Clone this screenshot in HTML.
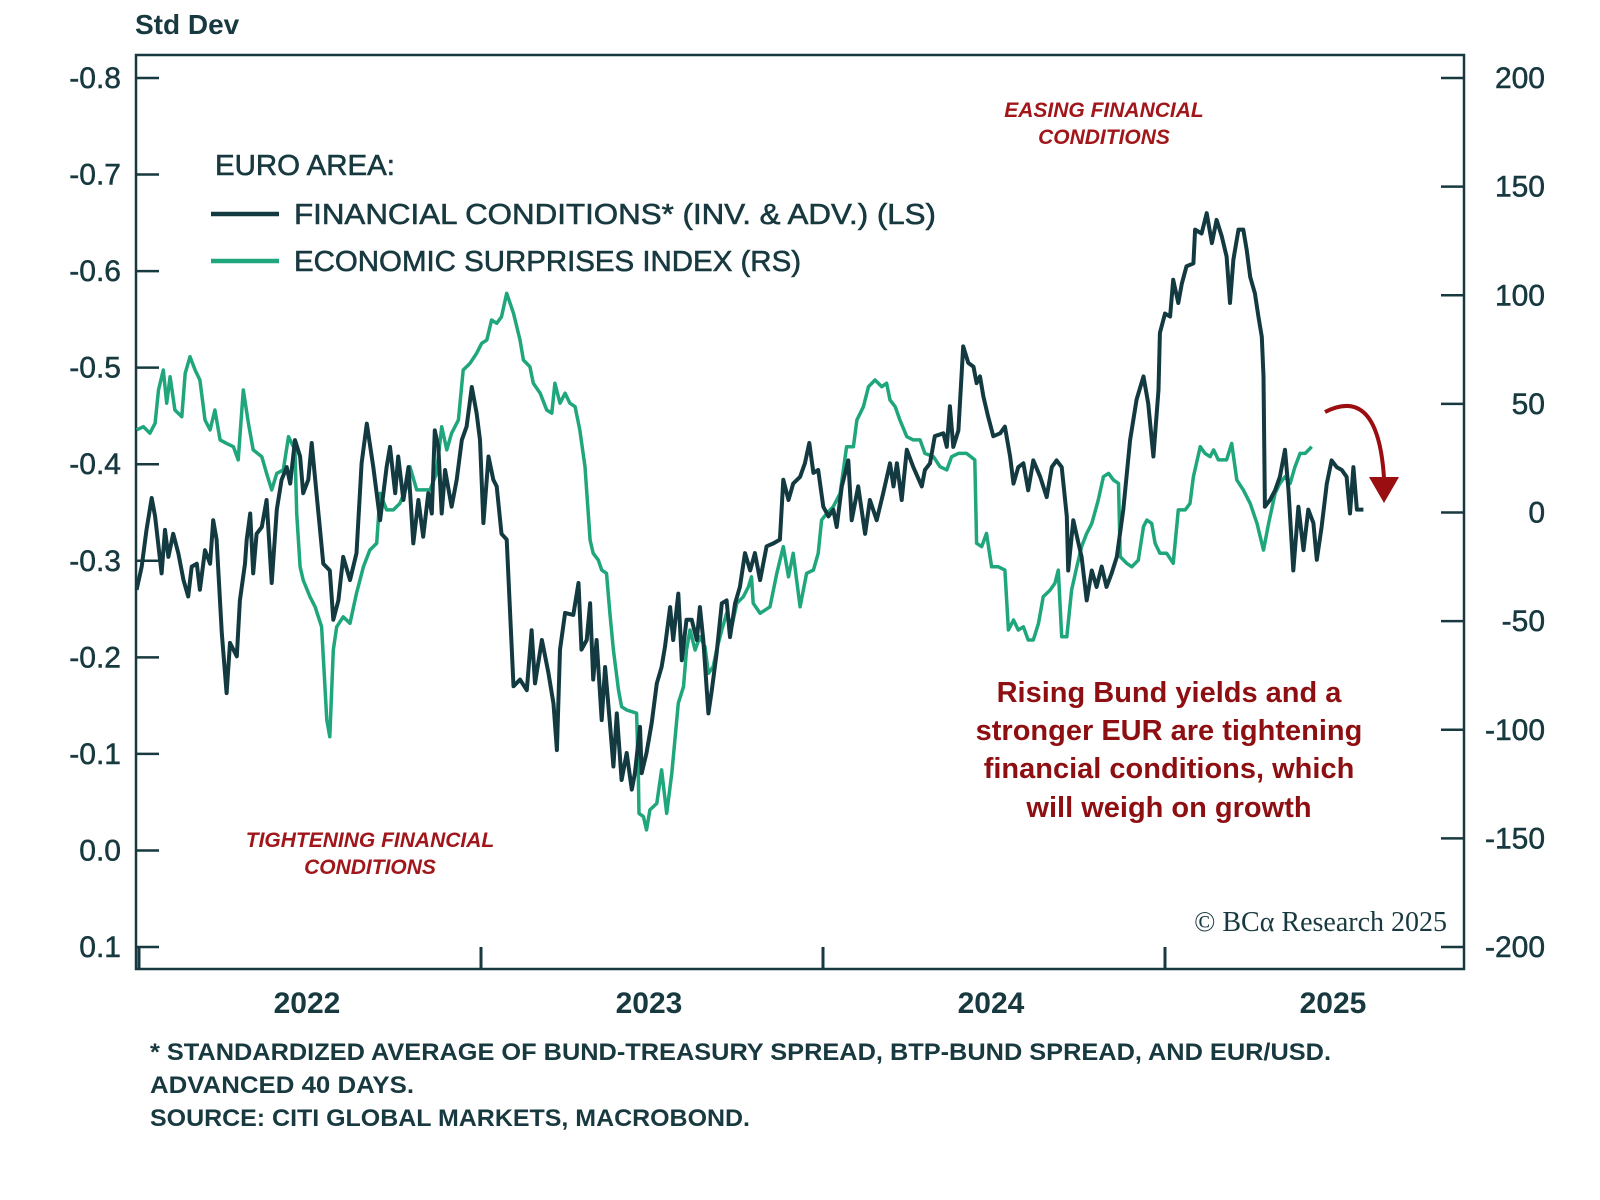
<!DOCTYPE html>
<html><head><meta charset="utf-8"><style>
html,body{margin:0;padding:0;background:#fff;}
svg{display:block;font-family:"Liberation Sans",sans-serif;}
</style></head><body>
<svg id="chart" width="1600" height="1200" viewBox="0 0 1600 1200" xmlns="http://www.w3.org/2000/svg">
<text x="135" y="34" font-size="28" font-weight="bold" fill="#17393f">Std Dev</text>
<rect x="136" y="55" width="1328" height="914" fill="none" stroke="#17393f" stroke-width="2.5"/>
<g id="axes"></g>
<g id="series"></g>
<text x="215" y="175" font-size="29" fill="#17393f" stroke="#17393f" stroke-width="0.6" textLength="180" lengthAdjust="spacingAndGlyphs">EURO AREA:</text>
<line x1="211" y1="214" x2="279" y2="214" stroke="#123a40" stroke-width="4.5"/>
<text x="294" y="224" font-size="29" fill="#17393f" stroke="#17393f" stroke-width="0.6" textLength="642" lengthAdjust="spacingAndGlyphs">FINANCIAL CONDITIONS* (INV. &amp; ADV.) (LS)</text>
<line x1="211" y1="261" x2="279" y2="261" stroke="#1fa67c" stroke-width="4.5"/>
<text x="294" y="271" font-size="29" fill="#17393f" stroke="#17393f" stroke-width="0.6" textLength="507" lengthAdjust="spacingAndGlyphs">ECONOMIC SURPRISES INDEX (RS)</text>
<g font-size="21" font-style="italic" font-weight="bold" fill="#a0161a" text-anchor="middle">
<text x="1104" y="117">EASING FINANCIAL</text><text x="1104" y="144">CONDITIONS</text></g>
<g font-size="21" font-style="italic" font-weight="bold" fill="#a0161a" text-anchor="middle">
<text x="370" y="847">TIGHTENING FINANCIAL</text><text x="370" y="874">CONDITIONS</text></g>
<g font-size="29" font-weight="bold" fill="#8e0f12" text-anchor="middle">
<text x="1169" y="702">Rising Bund yields and a</text>
<text x="1169" y="740">stronger EUR are tightening</text>
<text x="1169" y="778">financial conditions, which</text>
<text x="1169" y="817">will weigh on growth</text></g>
<text x="1447" y="931" font-size="28" text-anchor="end" fill="#17393f" font-family="Liberation Serif, serif">© BCα Research 2025</text>
<path d="M1325 412 Q1378 385 1384 478" fill="none" stroke="#9a0d10" stroke-width="4"/>
<polygon points="1369,477 1399,477 1384,503" fill="#9a0d10"/>
<g font-size="24" font-weight="bold" fill="#17393f">
<text x="150" y="1060" textLength="1181" lengthAdjust="spacingAndGlyphs">* STANDARDIZED AVERAGE OF BUND-TREASURY SPREAD, BTP-BUND SPREAD, AND EUR/USD.</text>
<text x="150" y="1093" textLength="264" lengthAdjust="spacingAndGlyphs">ADVANCED 40 DAYS.</text>
<text x="150" y="1126" textLength="600" lengthAdjust="spacingAndGlyphs">SOURCE: CITI GLOBAL MARKETS, MACROBOND.</text></g>
</svg>
<script>
const leftTicks=[-0.8,-0.7,-0.6,-0.5,-0.4,-0.3,-0.2,-0.1,0.0,0.1];
const leftTickLabels=["-0.8","-0.7","-0.6","-0.5","-0.4","-0.3","-0.2","-0.1","0.0","0.1"];
const rightTicks=[200,150,100,50,0,-50,-100,-150,-200];
const rightTickLabels=["200","150","100","50","0","-50","-100","-150","-200"];
const years=[2022,2023,2024,2025];
const yearLabels=["2022","2023","2024","2025"];
const fcDates=[2021.993,2022.008,2022.022,2022.037,2022.047,2022.057,2022.066,2022.076,2022.086,2022.100,2022.115,2022.130,2022.144,2022.154,2022.169,2022.178,2022.193,2022.208,2022.217,2022.227,2022.242,2022.256,2022.266,2022.286,2022.295,2022.310,2022.315,2022.325,2022.334,2022.344,2022.359,2022.373,2022.388,2022.403,2022.417,2022.432,2022.442,2022.456,2022.471,2022.480,2022.495,2022.505,2022.519,2022.539,2022.558,2022.568,2022.583,2022.597,2022.617,2022.636,2022.651,2022.666,2022.685,2022.705,2022.724,2022.734,2022.749,2022.758,2022.773,2022.788,2022.802,2022.817,2022.831,2022.846,2022.856,2022.865,2022.875,2022.885,2022.895,2022.914,2022.929,2022.944,2022.958,2022.973,2022.987,2022.997,2023.007,2023.022,2023.036,2023.046,2023.060,2023.075,2023.095,2023.114,2023.134,2023.148,2023.158,2023.178,2023.197,2023.212,2023.222,
2023.231,2023.246,2023.270,2023.285,2023.294,2023.309,2023.319,2023.328,2023.338,2023.353,2023.363,2023.377,2023.387,2023.397,2023.411,2023.426,2023.441,2023.450,2023.465,2023.470,2023.484,2023.499,2023.514,2023.528,2023.538,2023.553,2023.562,2023.577,2023.587,2023.601,2023.616,2023.631,2023.640,2023.650,2023.665,2023.675,2023.689,2023.704,2023.718,2023.728,2023.743,2023.757,2023.772,2023.787,2023.801,2023.816,2023.835,2023.855,2023.874,
2023.884,2023.899,2023.913,2023.933,2023.947,2023.960,2023.972,2023.986,2024.001,2024.016,2024.030,2024.040,2024.055,2024.074,2024.084,2024.103,2024.123,2024.137,2024.157,2024.176,2024.196,2024.206,2024.216,2024.230,2024.245,2024.264,2024.289,2024.298,2024.313,2024.327,2024.352,2024.362,2024.371,2024.381,2024.396,2024.410,2024.425,2024.440,2024.449,2024.459,2024.469,2024.483,2024.498,2024.518,2024.532,2024.547,2024.557,2024.571,2024.586,2024.600,2024.615,2024.635,2024.654,2024.669,2024.683,2024.698,2024.713,2024.717,2024.732,2024.747,2024.756,2024.771,2024.786,2024.800,2024.815,2024.829,2024.844,2024.859,2024.878,2024.898,2024.917,2024.937,2024.951,2024.966,2024.981,2024.985,2025.000,2025.015,2025.024,2025.039,2025.049,2025.063,2025.083,2025.088,2025.107,2025.122,2025.137,2025.151,2025.166,2025.180,2025.190,2025.200,2025.215,2025.229,2025.239,2025.249,2025.263,2025.273,2025.283,2025.288,2025.292,2025.307,2025.322,2025.336,2025.351,2025.361,2025.375,2025.390,2025.405,2025.419,2025.434,2025.444,2025.458,2025.473,2025.487,2025.502,2025.517,2025.531,2025.541,2025.551,2025.561,2025.580];
const fcValues=[-0.270,-0.294,-0.332,-0.365,-0.346,-0.315,-0.287,-0.332,-0.304,-0.328,-0.308,-0.280,-0.263,-0.294,-0.297,-0.270,-0.311,-0.297,-0.342,-0.322,-0.225,-0.163,-0.215,-0.201,-0.259,-0.297,-0.322,-0.349,-0.287,-0.328,-0.335,-0.363,-0.277,-0.353,-0.384,-0.397,-0.380,-0.425,-0.408,-0.370,-0.384,-0.422,-0.370,-0.297,-0.290,-0.239,-0.259,-0.304,-0.280,-0.308,-0.401,-0.442,-0.397,-0.342,-0.397,-0.418,-0.370,-0.408,-0.363,-0.397,-0.318,-0.363,-0.325,-0.370,-0.349,-0.435,-0.418,-0.349,-0.394,-0.356,-0.384,-0.425,-0.439,-0.480,-0.453,-0.425,-0.339,-0.408,-0.384,-0.377,-0.328,-0.322,-0.170,-0.177,-0.166,-0.228,-0.173,-0.218,-0.184,-0.152,-0.104,
-0.208,-0.246,-0.244,-0.277,-0.208,-0.218,-0.256,-0.177,-0.218,-0.135,-0.190,-0.132,-0.087,-0.142,-0.073,-0.101,-0.063,-0.080,-0.128,-0.080,-0.101,-0.132,-0.173,-0.190,-0.211,-0.252,-0.218,-0.266,-0.197,-0.239,-0.239,-0.218,-0.252,-0.218,-0.142,-0.166,-0.204,-0.256,-0.259,-0.221,-0.256,-0.273,-0.308,-0.290,-0.308,-0.280,-0.315,-0.318,-0.322,
-0.384,-0.363,-0.380,-0.387,-0.401,-0.422,-0.391,-0.394,-0.356,-0.346,-0.353,-0.335,-0.377,-0.404,-0.342,-0.377,-0.328,-0.363,-0.342,-0.370,-0.401,-0.377,-0.401,-0.363,-0.415,-0.397,-0.377,-0.394,-0.401,-0.429,-0.432,-0.418,-0.460,-0.418,-0.435,-0.522,-0.505,-0.501,-0.484,-0.491,-0.470,-0.449,-0.429,-0.432,-0.439,-0.408,-0.380,-0.397,-0.401,-0.373,-0.404,-0.387,-0.366,-0.397,-0.404,-0.397,-0.346,-0.290,-0.342,-0.318,-0.304,-0.259,-0.290,-0.273,-0.294,-0.273,-0.287,-0.304,-0.353,-0.425,-0.467,-0.491,-0.463,-0.408,-0.477,-0.536,-0.556,-0.553,-0.591,-0.567,-0.587,-0.605,-0.608,-0.643,-0.639,-0.660,-0.629,-0.653,-0.636,-0.615,-0.567,-0.612,-0.643,-0.643,-0.622,-0.594,-0.577,-0.553,-0.532,-0.491,-0.356,-0.363,-0.373,-0.387,-0.415,-0.373,-0.290,-0.356,-0.311,-0.353,-0.339,-0.301,-0.335,-0.380,-0.404,-0.397,-0.394,-0.387,-0.349,-0.397,-0.353,-0.353];
const esiDates=[2021.993,2022.013,2022.032,2022.047,2022.057,2022.071,2022.081,2022.091,2022.105,2022.125,2022.135,2022.149,2022.164,2022.178,2022.193,2022.208,2022.222,2022.237,2022.256,2022.276,2022.290,2022.305,2022.320,2022.334,2022.359,2022.373,2022.388,2022.403,2022.422,2022.437,2022.456,2022.461,2022.471,2022.480,2022.500,2022.515,2022.534,2022.549,2022.558,2022.568,2022.578,2022.597,2022.617,2022.636,2022.656,2022.675,2022.695,2022.705,2022.724,2022.744,2022.763,2022.783,2022.792,2022.812,2022.831,2022.851,2022.870,2022.885,2022.900,2022.914,2022.934,2022.948,2022.968,2022.987,2023.002,2023.017,2023.031,2023.046,2023.060,2023.075,2023.095,2023.114,2023.124,2023.143,2023.153,2023.173,2023.192,2023.207,2023.216,2023.231,2023.246,2023.260,2023.275,2023.289,2023.304,
2023.319,2023.328,2023.343,2023.353,2023.367,2023.377,2023.387,2023.402,2023.411,2023.426,2023.455,2023.460,2023.462,2023.475,2023.484,2023.494,2023.514,2023.528,2023.543,2023.558,2023.567,2023.577,2023.592,2023.601,2023.611,2023.626,2023.640,2023.655,2023.665,2023.679,2023.689,2023.704,2023.718,2023.733,2023.748,2023.767,2023.782,2023.791,2023.796,2023.816,2023.845,2023.865,2023.884,2023.899,2023.913,2023.933,
2023.952,2023.972,2023.986,2023.996,2024.011,2024.030,2024.050,2024.069,2024.089,2024.099,2024.118,2024.133,2024.152,2024.172,2024.186,2024.196,2024.211,2024.225,2024.245,2024.264,2024.284,2024.298,2024.323,2024.342,2024.362,2024.376,2024.396,2024.420,2024.444,2024.449,2024.464,2024.478,2024.493,2024.513,2024.532,2024.542,2024.557,2024.571,2024.586,2024.600,2024.615,2024.630,2024.644,2024.664,2024.678,2024.688,2024.698,2024.713,2024.727,2024.742,2024.756,2024.771,2024.786,2024.805,2024.820,2024.835,2024.849,2024.864,2024.869,2024.888,2024.903,2024.922,2024.937,2024.947,2024.961,2024.971,2024.985,2025.005,2025.024,2025.039,2025.059,2025.073,2025.083,2025.103,2025.117,2025.132,2025.142,2025.156,2025.180,2025.195,2025.210,2025.229,2025.249,2025.269,2025.288,2025.303,2025.322,2025.336,2025.351,2025.366,2025.380,2025.395,2025.410,2025.429];
const esiValues=[38.0,39.5,36.5,41.1,56.4,65.6,50.3,62.5,47.2,44.1,64.1,71.7,65.6,61.0,42.6,38.0,47.2,33.4,31.8,30.3,24.2,56.4,41.1,28.8,25.7,18.0,10.4,18.0,19.6,34.9,28.8,-0.4,-25.0,-31.1,-38.8,-43.4,-52.6,-95.5,-103.2,-63.3,-52.6,-48.0,-51.0,-37.2,-25.0,-17.3,-14.2,8.8,1.2,1.2,4.2,11.9,21.1,10.4,10.4,10.4,18.0,39.5,28.8,36.5,42.6,65.6,68.7,73.3,77.9,79.4,88.6,87.1,90.1,100.9,91.7,79.4,70.2,67.1,59.5,54.9,47.2,45.7,59.5,50.3,54.9,50.3,48.7,38.0,21.1,
-12.7,-18.8,-21.9,-26.5,-28.0,-46.4,-63.3,-81.7,-89.4,-90.9,-92.4,-120.0,-138.5,-140.0,-146.1,-136.9,-133.9,-118.5,-138.5,-120.0,-104.7,-87.8,-80.2,-63.3,-54.1,-63.3,-57.2,-61.8,-74.0,-71.0,-63.3,-54.1,-46.4,-52.6,-41.8,-38.8,-34.2,-29.6,-41.8,-46.4,-43.4,-28.0,-15.7,-29.6,-18.8,-43.4,
-28.0,-26.5,-18.8,-3.5,-0.4,2.7,8.8,30.3,30.3,42.6,48.7,57.9,61.0,57.9,59.5,51.8,48.7,42.6,34.9,33.4,33.4,27.2,25.7,21.1,19.6,25.7,27.2,27.2,24.2,-14.2,-15.7,-9.6,-25.0,-25.0,-26.5,-54.1,-49.5,-54.1,-52.6,-58.7,-58.7,-51.0,-38.8,-35.7,-32.6,-26.5,-57.2,-57.2,-35.7,-25.0,-15.7,-9.6,-5.0,5.8,16.5,18.0,15.0,13.4,-20.3,-23.4,-25.0,-21.9,-6.5,-3.5,-5.0,-14.2,-18.8,-18.8,-23.4,1.2,1.2,4.2,16.5,30.3,27.2,25.7,28.8,24.2,24.2,31.8,15.0,10.4,4.2,-5.0,-17.3,-5.0,8.8,13.4,16.5,13.4,21.1,27.2,27.2,30.3];

const SVGNS="http://www.w3.org/2000/svg";
const plotLeft=136, plotRight=1464, plotBottom=969;
function xScale(t){return 139+(t-2022)*342;}
function yLeft(v){return 78+(v+0.8)*965.6;}
function yRight(r){return 78+(200-r)*2.1725;}
const axes=document.getElementById('axes');
const series=document.getElementById('series');
function mk(tag,attrs,parent){const e=document.createElementNS(SVGNS,tag);for(const k in attrs)e.setAttribute(k,attrs[k]);parent.appendChild(e);return e;}
leftTicks.forEach((v,i)=>{
  const y=yLeft(v);
  const l=mk('line',{x1:plotLeft,x2:plotLeft+23,y1:y,y2:y,stroke:'#17393f','stroke-width':2.5},axes);
  
  
  const t=mk('text',{x:121,y:y+10,'font-size':30,'text-anchor':'end',fill:'#17393f',stroke:'#17393f','stroke-width':0.5},axes);
  
  
  t.textContent=leftTickLabels[i];
});
rightTicks.forEach((r,i)=>{
  const y=yRight(r);
  const l=mk('line',{x1:plotRight-23,x2:plotRight,y1:y,y2:y,stroke:'#17393f','stroke-width':2.5},axes);
  
  
  const t=mk('text',{x:1545,y:y+10,'font-size':30,'text-anchor':'end',fill:'#17393f',stroke:'#17393f','stroke-width':0.5},axes);
  
  
  t.textContent=rightTickLabels[i];
});
years.forEach((yr,i)=>{
  const x=xScale(yr);
  const l=mk('line',{x1:x,x2:x,y1:plotBottom,y2:plotBottom-22,stroke:'#17393f','stroke-width':3},axes);
  
  
  const t=mk('text',{x:xScale(yr+0.5)-3,y:1013,'font-size':30,'font-weight':'bold','text-anchor':'middle',fill:'#17393f'},axes);
  
  
  t.textContent=yearLabels[i];
});
function pathFrom(dates,vals,ys){return dates.map((d,i)=>(i?'L':'M')+xScale(d).toFixed(1)+' '+ys(vals[i]).toFixed(1)).join(' ');}
const esi=mk('path',{d:pathFrom(esiDates,esiValues,yRight),fill:'none',stroke:'#1fa67c','stroke-width':3.5,'stroke-linejoin':'round'},series);


const fc=mk('path',{d:pathFrom(fcDates,fcValues,yLeft),fill:'none',stroke:'#123a40','stroke-width':4,'stroke-linejoin':'round'},series);


</script>
</body></html>
